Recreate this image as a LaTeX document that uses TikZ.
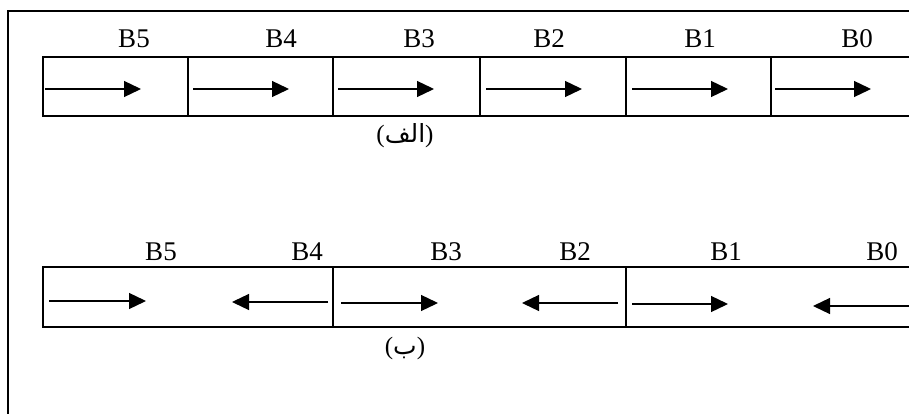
\documentclass[tikz,border=0pt]{standalone}
\usepackage{fontspec}
\setmainfont{Liberation Serif}
\newfontfamily\arabicfont[Script=Arabic]{DejaVu Sans}
\TeXXeTstate=1
\usetikzlibrary{arrows.meta}
\begin{document}
\begin{tikzpicture}[x=1pt,y=-1pt,
  frame/.style={line width=1.7pt},
  arr/.style={line width=1.3pt,-{Triangle[length=17pt,width=16pt]}},
  lab/.style={font=\fontsize{27}{27}\selectfont,inner sep=0pt,anchor=base},
  captxt/.style={inner sep=0pt,font=\fontsize{25}{25}\selectfont}]
\useasboundingbox (0,0) rectangle (909,414);
% outer frame
\coordinate (fbl) at (8,416);
\coordinate (ftl) at (8,11);
\coordinate (ftr) at (912,11);
\draw[frame] (fbl) -- (ftl) -- (ftr);
% top row
\coordinate (ta) at (43,57);
\coordinate (tb) at (43,116);
\draw[frame] (915,57) -- (ta) -- (tb) -- (915,116);
\foreach \x/\n in {188/1,333/2,480/3,626/4,771/5}{
  \coordinate (tdu\n) at (\x,57);
  \coordinate (tdd\n) at (\x,116);
  \draw[frame] (tdu\n) -- (tdd\n);
}
\foreach \s/\n in {45/1,193/2,338/3,486/4,632/5,775/6}{
  \coordinate (tas\n) at (\s,89);
  \coordinate (tae\n) at ({\s+96},89);
  \draw[arr] (tas\n) -- (tae\n);
}
\node[lab] (t5) at (134,48) {B5};
\node[lab] (t4) at (281,48) {B4};
\node[lab] (t3) at (419,48) {B3};
\node[lab] (t2) at (549,48) {B2};
\node[lab] (t1) at (700,48) {B1};
\node[lab] (t0) at (857,48) {B0};
\node[captxt] (capa) at (405,136) {(\arabicfont\beginR الف\endR\rmfamily)};
% bottom row
\coordinate (ba) at (43,267);
\coordinate (bb) at (43,327);
\draw[frame] (915,267) -- (ba) -- (bb) -- (915,327);
\foreach \x/\n in {333/1,626/2}{
  \coordinate (bdu\n) at (\x,267);
  \coordinate (bdd\n) at (\x,327);
  \draw[frame] (bdu\n) -- (bdd\n);
}
\coordinate (r1s) at (49,301);  \coordinate (r1e) at (146,301);
\coordinate (l1s) at (328,302); \coordinate (l1e) at (232,302);
\coordinate (r2s) at (341,303); \coordinate (r2e) at (438,303);
\coordinate (l2s) at (618,303); \coordinate (l2e) at (522,303);
\coordinate (r3s) at (632,304); \coordinate (r3e) at (728,304);
\coordinate (l3s) at (915,306); \coordinate (l3e) at (813,306);
\draw[arr] (r1s) -- (r1e);
\draw[arr] (l1s) -- (l1e);
\draw[arr] (r2s) -- (r2e);
\draw[arr] (l2s) -- (l2e);
\draw[arr] (r3s) -- (r3e);
\draw[arr] (l3s) -- (l3e);
\node[lab] (b5) at (161,260) {B5};
\node[lab] (b4) at (307,260) {B4};
\node[lab] (b3) at (446,260) {B3};
\node[lab] (b2) at (575,260) {B2};
\node[lab] (b1) at (726,260) {B1};
\node[lab] (b0) at (882,260) {B0};
\node[captxt] (capb) at (405,348) {(\arabicfont\beginR ب\endR\rmfamily)};
\end{tikzpicture}
\end{document}
